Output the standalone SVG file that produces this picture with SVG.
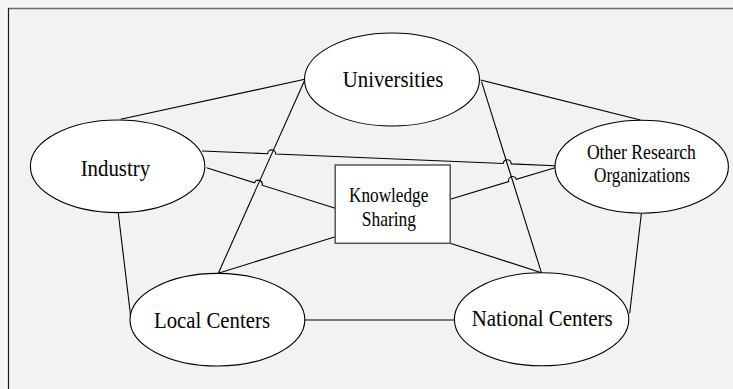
<svg xmlns="http://www.w3.org/2000/svg" width="733" height="389" viewBox="0 0 733 389">
<style>
.node ellipse{fill:#fff;stroke:#000;stroke-width:1.1}
.node rect{fill:#fff;stroke:#555;stroke-width:1.5}
text{font-family:'Liberation Serif',Tinos,'Times New Roman',Times,'Nimbus Roman','Nimbus Roman No9 L','Noto Serif','DejaVu Serif',FreeSerif,serif;font-size:24px;fill:#000;text-anchor:middle}
text.sm{font-size:21.5px}
#connectors path,#connectors line{stroke:#000;stroke-width:1.1;fill:none}
</style>
<rect x="0" y="0" width="733" height="389" fill="#f5f5f5"/>
<rect x="8" y="8" width="725" height="381" fill="#f2f2f2"/>
<line x1="8" y1="8.5" x2="733" y2="8.5" stroke="#6a6a6a" stroke-width="1.6"/>
<line x1="8.5" y1="8" x2="8.5" y2="389" stroke="#1e1e1e" stroke-width="1.2"/>
<g id="connectors">
<line x1="120.6" y1="119.3" x2="304.8" y2="79.3"/>
<line x1="480.6" y1="80" x2="640.5" y2="120"/>
<line x1="118.3" y1="213.3" x2="130.9" y2="318.3"/>
<line x1="641.4" y1="213.3" x2="629.7" y2="313.3"/>
<line x1="304.8" y1="320" x2="454.4" y2="320"/>
<line x1="304.8" y1="80" x2="218.3" y2="273.3"/>
<line x1="481.5" y1="81.7" x2="541.4" y2="272.7"/>
<line x1="335.2" y1="236.7" x2="218.3" y2="273.3"/>
<line x1="450.2" y1="243.3" x2="541.4" y2="272.7"/>
<path d="M202,151 L267.7,153.73 A4,4 0 0 1 275.7,154.07 L503.2,163.53 A4,4 0 0 1 511.2,163.87 L555,165.7"/>
<path d="M206.6,167.7 L254.44,182.8 A4,4 0 0 1 262.06,185.2 L335.2,208.3"/>
<path d="M450.2,199.3 L508.67,181.65 A4,4 0 0 1 516.33,179.35 L555,167.7"/>
</g>
<g id="universities" class="node">
<ellipse cx="392" cy="79.5" rx="87.5" ry="46.5"/>
<text x="393" y="87.3" textLength="100.5" lengthAdjust="spacingAndGlyphs">Universities</text>
</g>
<g id="industry" class="node">
<ellipse cx="117.6" cy="166.3" rx="87.2" ry="46.3"/>
<text x="115.4" y="176" textLength="69.5" lengthAdjust="spacingAndGlyphs">Industry</text>
</g>
<g id="other-research" class="node">
<ellipse cx="641.7" cy="166.7" rx="86.7" ry="46.5"/>
<text class="sm" x="641.4" y="159.3" textLength="109" lengthAdjust="spacingAndGlyphs">Other Research</text>
<text class="sm" x="642" y="181.5" textLength="96" lengthAdjust="spacingAndGlyphs">Organizations</text>
</g>
<g id="knowledge-sharing" class="node">
<rect x="335.2" y="165" width="115" height="78.3"/>
<text class="sm" x="388.7" y="201.5" textLength="79.3" lengthAdjust="spacingAndGlyphs">Knowledge</text>
<text class="sm" x="388.9" y="225.7" textLength="54.3" lengthAdjust="spacingAndGlyphs">Sharing</text>
</g>
<g id="local-centers" class="node">
<ellipse cx="217.4" cy="319.7" rx="87.4" ry="46.3"/>
<text x="212" y="328.3" textLength="116" lengthAdjust="spacingAndGlyphs">Local Centers</text>
</g>
<g id="national-centers" class="node">
<ellipse cx="541.6" cy="319.3" rx="87.2" ry="46.5"/>
<text x="542.2" y="325.7" textLength="141" lengthAdjust="spacingAndGlyphs">National Centers</text>
</g>
</svg>
